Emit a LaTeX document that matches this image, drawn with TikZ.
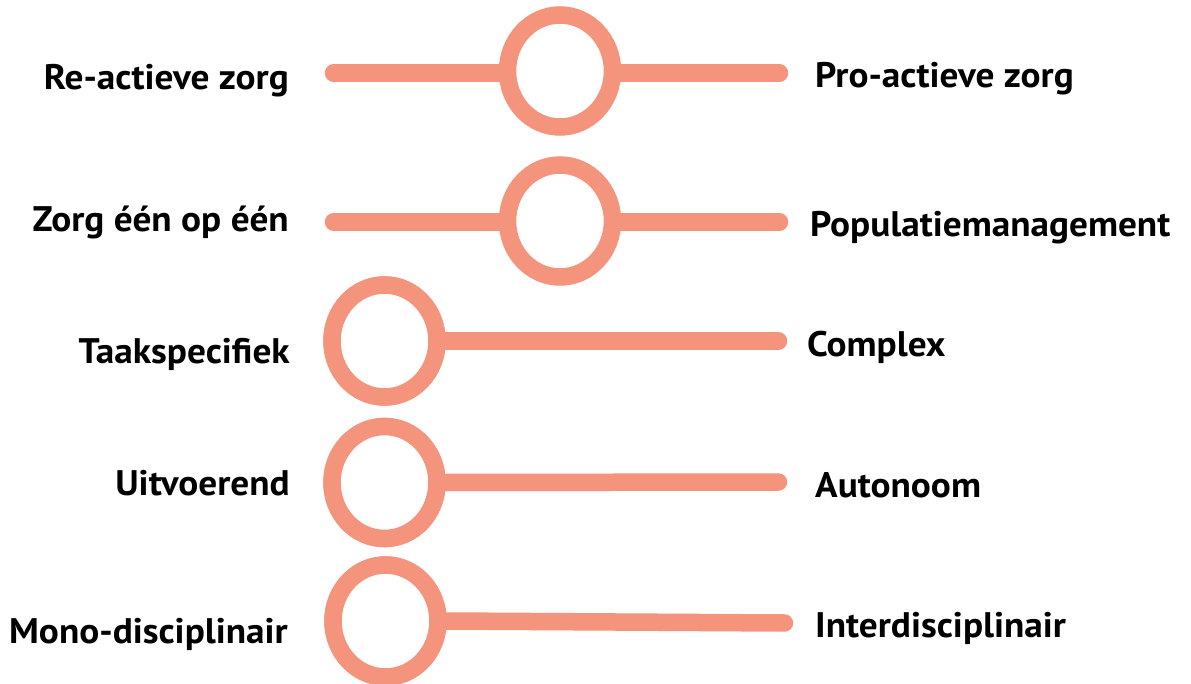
\documentclass[tikz,border=0pt]{standalone}
\usepackage{fontspec}
\setmainfont{PT Sans}[FakeStretch=1.05]
\usetikzlibrary{shapes.geometric}
\definecolor{salmon}{HTML}{F5947C}
\begin{document}
\begin{tikzpicture}[x=1pt,y=-1pt,
  track/.style={draw=salmon,line width=17.5pt,line cap=round},
  knob/.style={ellipse,draw=salmon,line width=17.5pt,fill=white,minimum width=105pt,minimum height=112pt,inner sep=0pt},
  lbl/.style={font=\fontsize{35.5}{40}\selectfont\bfseries,inner sep=0pt,text=black}
]
\useasboundingbox (0,0) rectangle (1191,684);
% row 1
\coordinate (a1) at (333.5,73);
\coordinate (b1) at (779.5,73);
\draw[track] (a1) -- (b1);
\node[knob] (k1) at (560,71) {};
\node[lbl,anchor=base east] (l1) at (289,90) {Re-actieve zorg};
\node[lbl,anchor=base west] (r1) at (815,88) {Pro-actieve zorg};
% row 2
\coordinate (a2) at (333.5,222);
\coordinate (b2) at (779.5,222);
\draw[track] (a2) -- (b2);
\node[knob] (k2) at (560,221) {};
\node[lbl,anchor=base east] (l2) at (289,232) {Zorg één op één};
\node[lbl,anchor=base west] (r2) at (810,237) {Populatiemanagement};
% row 3
\node[knob] (k3) at (384.5,341) {};
\coordinate (b3) at (778.5,341);
\draw[track] (k3.east) -- (b3);
\node[knob] at (k3) {};
\node[lbl,anchor=base east] (l3) at (290,363) {Taakspecifiek};
\node[lbl,anchor=base west] (r3) at (807,357) {Complex};
% row 4
\node[knob] (k4) at (384.5,482.5) {};
\coordinate (b4) at (778.5,482);
\draw[track] (k4.east) -- (b4);
\node[knob] at (k4) {};
\node[lbl,anchor=base east] (l4) at (290,495) {Uitvoerend};
\node[lbl,anchor=base west] (r4) at (815,497) {Autonoom};
% row 5
\node[knob] (k5) at (385.5,621) {};
\coordinate (b5) at (784.5,623);
\draw[track] (k5.east) -- (b5);
\node[knob] at (k5) {};
\node[lbl,anchor=base east] (l5) at (288,643) {Mono-disciplinair};
\node[lbl,anchor=base west] (r5) at (815,637) {Interdisciplinair};
\end{tikzpicture}
\end{document}
